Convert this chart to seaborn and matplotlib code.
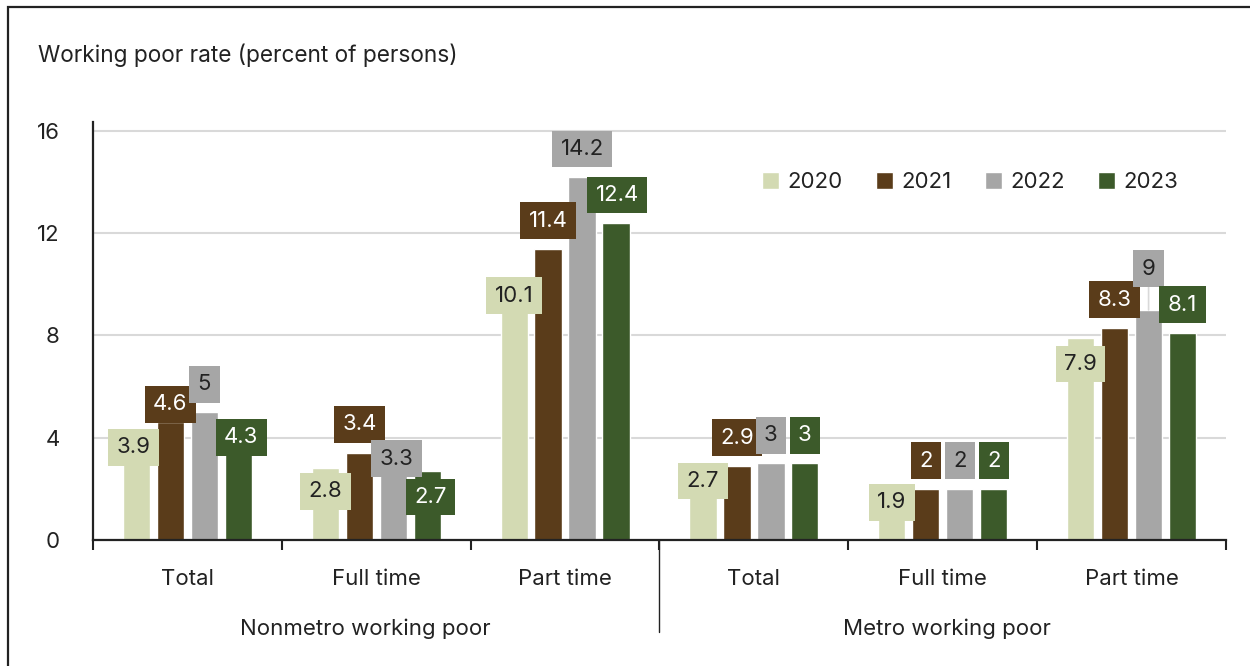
import matplotlib
matplotlib.use("Agg")
import matplotlib.pyplot as plt
from matplotlib.lines import Line2D
from matplotlib.patches import Rectangle
import seaborn as sns
import pandas as pd

# ---- data -------------------------------------------------------------
groups = ["Nonmetro working poor", "Metro working poor"]
categories = ["Total", "Full time", "Part time"]
years = ["2020", "2021", "2022", "2023"]

rate_2020 = [3.9, 2.8, 10.1, 2.7, 1.9, 7.9]
rate_2021 = [4.6, 3.4, 11.4, 2.9, 2.0, 8.3]
rate_2022 = [5.0, 3.3, 14.2, 3.0, 2.0, 9.0]
rate_2023 = [4.3, 2.7, 12.4, 3.0, 2.0, 8.1]

y_ticks = [0, 4, 8, 12, 16]

# ---- styling ----------------------------------------------------------
colors = ["#d3dab3", "#5a3c1a", "#a6a6a6", "#3c5a2a"]
label_text_colors = ["#222222", "#ffffff", "#222222", "#ffffff"]

# label box nudges (pixels: dx right, dy up from bar top), per slot, per year
label_dx = [[-3, 0, 0, 3], [0, 0, 3.5, 3.5], [0, 0, 0, 1],
            [0, 0, 0, 0], [0, 0, 0, 0], [0, 0, 0, 0]]
label_dy = [[-7, 18, 28, -7], [-23, 29, -3, -26], [-14, 28, 28, 28],
            [-10, 28, 28, 28], [-11, 28, 28, 28], [-26, 28, 41, 28]]

slots = [f"{g}|{c}" for g in groups for c in categories]
series = [rate_2020, rate_2021, rate_2022, rate_2023]
df = pd.DataFrame(
    [(slots[i], years[j], series[j][i]) for j in range(len(years)) for i in range(len(slots))],
    columns=["slot", "year", "rate"],
)

sns.set_theme(style="white")
plt.rcParams["font.family"] = ["Inter", "DejaVu Sans"]
plt.rcParams["text.color"] = "#222222"

FS = 16
DPI = 100
fig = plt.figure(figsize=(12.5, 6.66), dpi=DPI)
ax = fig.add_axes([93 / 1250, 1 - 540 / 666, (1226 - 93) / 1250, (540 - 122) / 666])
PT = 72 / DPI  # pixel -> points

sns.barplot(
    data=df, x="slot", y="rate", hue="year", order=slots, hue_order=years,
    palette=colors, saturation=1, width=0.72, gap=0.2, ax=ax, legend=True,
    errorbar=None,
)

ax.set_xlim(-0.5, len(slots) - 0.5)
ax.set_ylim(0, 16.35)
ax.set_axisbelow(True)
ax.set_yticks(y_ticks)
ax.set_yticklabels([str(t) for t in y_ticks])
ax.yaxis.grid(True, color="#d9d9d9", lw=1.5)
ax.xaxis.grid(False)
ax.tick_params(axis="y", length=0, pad=33 * PT, labelsize=FS, labelcolor="#222222")

# group boundaries as ticks, category names as minor labels
ax.set_xticks([i - 0.5 for i in range(len(slots) + 1)])
ax.set_xticklabels([])
ax.set_xticks(list(range(len(slots))), minor=True)
ax.set_xticklabels(categories * len(groups), minor=True)
ax.tick_params(axis="x", which="major", length=7, width=1.5, color="#222222", direction="out", bottom=True)
ax.tick_params(axis="x", which="minor", length=0, pad=29 * PT, labelsize=FS, labelcolor="#222222")
ax.set_xlabel("")
ax.set_ylabel("")

for s in ["top", "right"]:
    ax.spines[s].set_visible(False)
for s in ["left", "bottom"]:
    ax.spines[s].set_color("#222222")
    ax.spines[s].set_linewidth(1.6)

# value labels in filled boxes
for j, cont in enumerate(ax.containers):
    for i, bar in enumerate(cont):
        v = series[j][i]
        x = bar.get_x() + bar.get_width() / 2
        dx, dy = label_dx[i][j], label_dy[i][j]
        arrow = dict(arrowstyle="-", color="#d9d9d9", lw=1.2, shrinkA=0, shrinkB=0) if dy > 35 else None
        ax.annotate(
            f"{v:g}", xy=(x, v), xytext=(dx * PT, dy * PT), textcoords="offset points",
            ha="center", va="center", fontsize=FS, color=label_text_colors[j],
            bbox=dict(boxstyle="square,pad=0.38", fc=colors[j], ec="none"),
            arrowprops=arrow, zorder=5 + j,
        )

# separator between the two groups
ax.add_line(Line2D([2.5, 2.5], [0, -0.22], transform=ax.get_xaxis_transform(),
                   color="#222222", lw=1.0, clip_on=False))

# group titles
for x, name in zip([0.94, 4.02], groups):
    ax.text(x, -0.212, name, transform=ax.get_xaxis_transform(), ha="center", va="center",
            fontsize=FS, color="#222222")

# legend
handles, labels = ax.get_legend_handles_labels()
ax.legend(handles, labels, ncol=4, frameon=False, loc="center left",
          bbox_to_anchor=(762 / 1250, 1 - 182 / 666), bbox_transform=fig.transFigure,
          borderpad=0, borderaxespad=0, handlelength=0.78, handleheight=0.78,
          handletextpad=0.36, columnspacing=1.5, fontsize=FS)

# axis title
fig.text(38 / 1250, 1 - 55 / 666, "Working poor rate (percent of persons)", ha="left", va="center",
         fontsize=16.3, color="#222222")

# outer frame
fig.add_artist(Rectangle((8 / 1250, -0.2), 1.5, 1.2 - 7 / 666, transform=fig.transFigure,
                         fill=False, ec="#222222", lw=1.6))

fig.savefig("out.png", dpi=DPI)
